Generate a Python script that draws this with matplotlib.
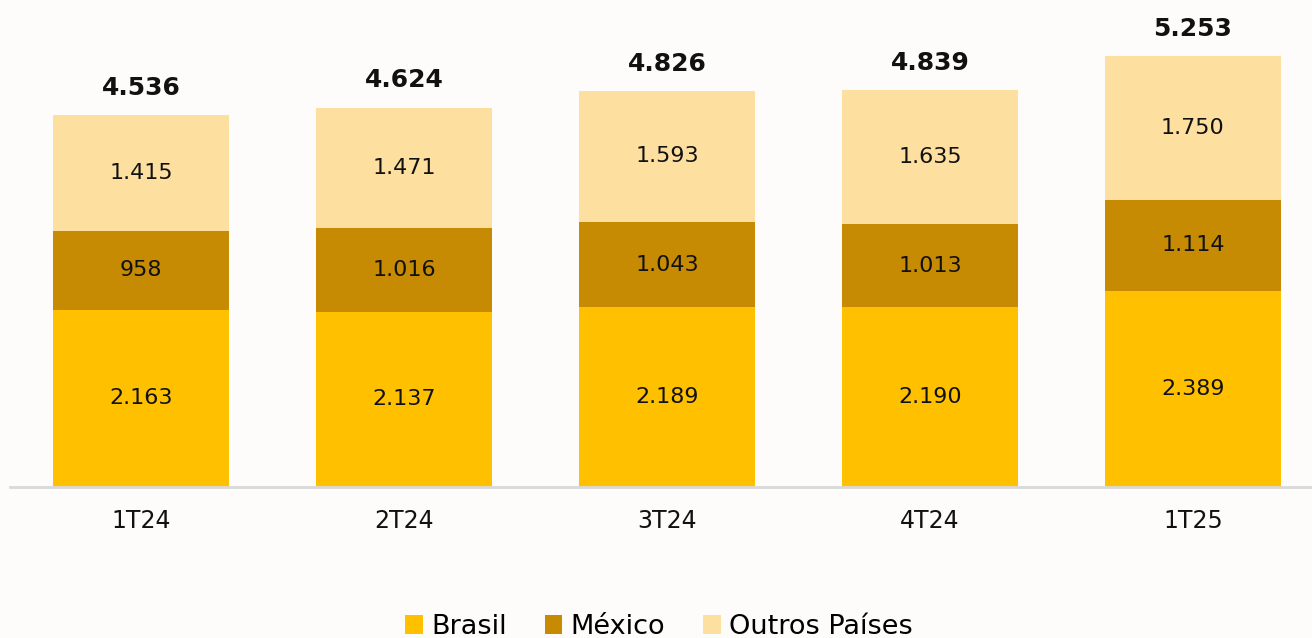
import matplotlib.pyplot as plt
import numpy as np

# Data
quarters = ['1T24', '2T24', '3T24', '4T24', '1T25']
brasil = [2163, 2137, 2189, 2190, 2389]
mexico = [958, 1016, 1043, 1013, 1114]
outros = [1415, 1471, 1593, 1635, 1750]
totals = [4536, 4624, 4826, 4839, 5253]

colors = {'Brasil': '#FFC000', 'México': '#C68A03', 'Outros Países': '#FDDFA0'}


def fmt(v):
    return f"{v:,}".replace(',', '.')


plt.rcParams['font.family'] = ['DejaVu Sans']

fig = plt.figure(figsize=(13.12, 6.38), dpi=100, facecolor='#FDFCFA')
ax = fig.add_axes([10 / 1312, 151 / 638, 1302 / 1312, 487 / 638])
ax.set_facecolor('none')

x = np.arange(len(quarters))
width = 0.67
series = [('Brasil', brasil), ('México', mexico), ('Outros Países', outros)]
bottom = np.zeros(len(quarters))
for name, vals in series:
    vals = np.array(vals)
    ax.bar(x, vals, width, bottom=bottom, color=colors[name], label=name)
    for xi, b, v in zip(x, bottom, vals):
        ax.text(xi, b + v / 2, fmt(v), ha='center', va='center',
                fontsize=16, color='#111111')
    bottom += vals

# totals on top
for xi, t in zip(x, totals):
    ax.annotate(fmt(t), (xi, t), xytext=(0, 11), textcoords='offset points',
                ha='center', va='bottom', fontsize=18, fontweight='bold', color='#111111')

ax.set_xlim(-0.498, 4.453)
ax.set_ylim(0, 5935)
ax.set_xticks(x)
ax.set_xticklabels(quarters, fontsize=17, color='#111111')
ax.tick_params(axis='x', length=0, pad=16)
ax.set_yticks([])
for s in ['top', 'right', 'left']:
    ax.spines[s].set_visible(False)
ax.spines['bottom'].set_color('#D9D9D9')
ax.spines['bottom'].set_linewidth(2)

fig.legend(loc='center', bbox_to_anchor=(659 / 1312, 11 / 638), ncol=3, frameon=False,
           fontsize=19.5, handlelength=0.65, handleheight=0.65, handletextpad=0.3,
           columnspacing=1.4)

fig.savefig('out.png', dpi=100, facecolor=fig.get_facecolor())
